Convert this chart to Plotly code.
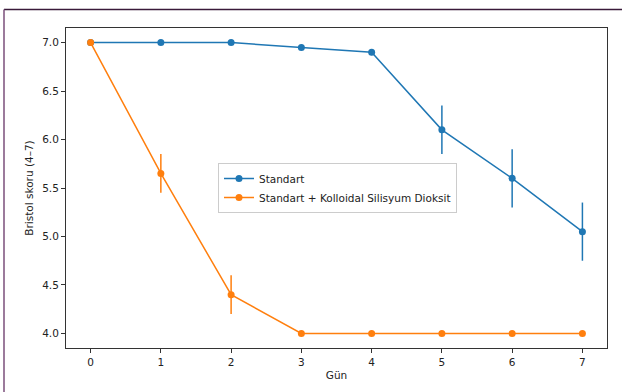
import plotly.graph_objects as go

days = [0, 1, 2, 3, 4, 5, 6, 7]
standart = [7.0, 7.0, 7.0, 6.95, 6.9, 6.1, 5.6, 5.05]
standart_err = [0.0, 0.0, 0.0, 0.02, 0.03, 0.25, 0.3, 0.3]
silika = [7.0, 5.65, 4.4, 4.0, 4.0, 4.0, 4.0, 4.0]
silika_err = [0.0, 0.2, 0.2, 0.0, 0.0, 0.0, 0.0, 0.0]
names = ["Standart", "Standart + Kolloidal Silisyum Dioksit"]
colors = ["#1f77b4", "#ff7f0e"]

W, H = 622, 392
L, R, T, B = 66, 15, 28, 42
pw, ph = W - L - R, H - T - B
FS = 10.5

fig = go.Figure()
for ys, es, nm, c in [(standart, standart_err, names[0], colors[0]),
                      (silika, silika_err, names[1], colors[1])]:
    fig.add_trace(go.Scatter(
        x=days, y=ys, name=nm, mode="lines+markers",
        line=dict(color=c, width=1.5),
        marker=dict(color=c, size=7, symbol="circle"),
        error_y=dict(type="data", array=es, visible=True, color=c,
                     thickness=1.5, width=0),
    ))

axis_common = dict(
    showgrid=False, zeroline=False, showline=True, linecolor="#333333",
    linewidth=1, mirror=True, ticks="outside", ticklen=4, tickwidth=1,
    tickcolor="#333333", tickfont=dict(size=FS, color="#222222"),
)
fig.update_xaxes(range=[-0.35, 7.35], tickvals=days,
                 title=dict(text="Gün", font=dict(size=FS, color="#222222"), standoff=5),
                 **axis_common)
fig.update_yaxes(range=[3.85, 7.15], tickvals=[4.0, 4.5, 5.0, 5.5, 6.0, 6.5, 7.0],
                 tickformat=".1f",
                 title=dict(text="Bristol skoru (4–7)", font=dict(size=FS, color="#222222"), standoff=6),
                 **axis_common)

def px_x(p):
    return (p - L) / pw

def px_y(p):
    return 1 - (p - T) / ph

shapes = [
    dict(type="line", xref="paper", yref="paper", x0=px_x(4), x1=px_x(W + 5),
         y0=px_y(9.3), y1=px_y(9.3), line=dict(color="#3a1a3a", width=1.5)),
    dict(type="line", xref="paper", yref="paper", x0=px_x(4), x1=px_x(4),
         y0=px_y(9.3), y1=px_y(H + 5), line=dict(color="#7b4f7b", width=1.5)),
]

fig.update_layout(
    width=W, height=H, margin=dict(l=L, r=R, t=T, b=B),
    paper_bgcolor="white", plot_bgcolor="white",
    font=dict(family="DejaVu Sans", size=FS, color="#222222"),
    showlegend=True,
    legend=dict(x=px_x(218), y=px_y(189), xanchor="left", yanchor="middle",
                bgcolor="rgba(255,255,255,0.8)", bordercolor="#cccccc", borderwidth=1,
                font=dict(size=FS), tracegroupgap=0, itemwidth=30),
    shapes=shapes,
)
fig.write_html("out.html", config={"displayModeBar": False},
               post_script="document.body.style.margin='0';document.body.style.overflow='hidden';")
